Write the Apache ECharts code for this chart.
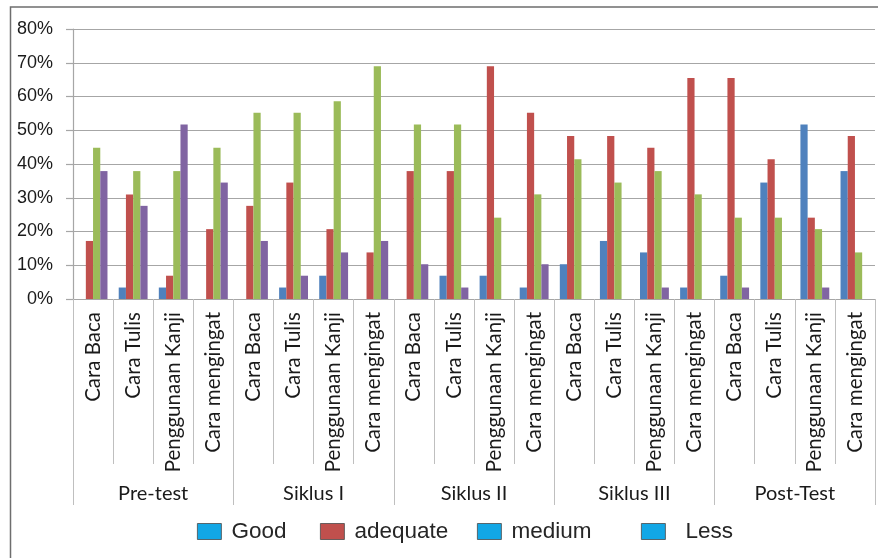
<!DOCTYPE html>
<html>
<head>
<meta charset="utf-8">
<script src="https://cdn.jsdelivr.net/npm/echarts@6/dist/echarts.min.js"></script>
<style>
html,body{margin:0;padding:0;background:#fff;}
#chart{width:878px;height:558px;}
</style>
</head>
<body>
<div id="chart"></div>
<script>
// ---- data ----
const groups = ['Pre-test', 'Siklus I', 'Siklus II', 'Siklus III', 'Post-Test'];
const subCategories = ['Cara Baca', 'Cara Tulis', 'Penggunaan Kanji', 'Cara mengingat'];
const yTicks = [0, 10, 20, 30, 40, 50, 60, 70, 80];
const seriesNames = ['Good', 'adequate', 'medium', 'Less'];
const good     = [0, 3.4, 3.4, 0,    0, 3.4, 6.9, 0,     0, 6.9, 6.9, 3.4,     10.3, 17.2, 13.8, 3.4,  6.9, 34.5, 51.7, 37.9];
const adequate = [17.2, 31.0, 6.9, 20.7, 27.6, 34.5, 20.7, 13.8, 37.9, 37.9, 69.0, 55.2, 48.3, 48.3, 44.8, 65.5, 65.5, 41.4, 24.1, 48.3];
const medium   = [44.8, 37.9, 37.9, 44.8, 55.2, 55.2, 58.6, 69.0, 51.7, 51.7, 24.1, 31.0, 41.4, 34.5, 37.9, 31.0, 24.1, 24.1, 20.7, 13.8];
const less     = [37.9, 27.6, 51.7, 34.5, 17.2, 6.9, 13.8, 17.2, 10.3, 3.4, 0, 10.3,  0, 0, 3.4, 0,   3.4, 0, 3.4, 0];

// ---- build ----
const categories = [];
groups.forEach(function () { subCategories.forEach(function (s) { categories.push(s); }); });
const barColors = ['#4F81BD', '#C0504D', '#9BBB59', '#8064A2'];
const legendColors = ['#12A7E6', '#C0504D', '#12A7E6', '#12A7E6'];
const seriesData = [good, adequate, medium, less];
const legendLeft = [197, 320, 477, 641];
const legendTextPad = [5, 5, 5, 15];

const chart = echarts.init(document.getElementById('chart'));
const catFont = 'Lato, "Open Sans", sans-serif';

chart.setOption({
  animation: false,
  backgroundColor: '#ffffff',
  graphic: [{
    type: 'rect',
    shape: { x: 10.5, y: 7, width: 900, height: 600 },
    style: { fill: 'none', stroke: '#6E6E6E', lineWidth: 1.5 },
    z: 100
  }],
  grid: { left: 73, right: 3, top: 29, bottom: 259, containLabel: false },
  legend: seriesNames.map(function (n, i) {
    return {
      data: [{ name: n, itemStyle: { color: legendColors[i], borderColor: '#4a4a4a', borderWidth: 0.8 } }],
      left: legendLeft[i],
      top: 520,
      padding: 0,
      icon: 'rect',
      itemWidth: 24,
      itemHeight: 16,
      selectedMode: false,
      textStyle: {
        fontFamily: '"Liberation Sans", Arial, sans-serif',
        fontSize: 22.5,
        color: '#262626',
        padding: [0, 0, 0, legendTextPad[i]]
      }
    };
  }),
  xAxis: [{
    type: 'category',
    data: categories,
    position: 'bottom',
    axisLine: { show: true, lineStyle: { color: '#A6A6A6', width: 1.2 } },
    axisTick: { show: true, interval: 0, length: 165, lineStyle: { color: '#BFBFBF', width: 1 } },
    axisLabel: {
      interval: 0, rotate: 90, margin: 13,
      fontFamily: catFont, fontSize: 20.5, color: '#1a1a1a'
    },
    splitLine: { show: false }
  }, {
    type: 'category',
    data: groups,
    position: 'bottom',
    axisLine: { show: false },
    axisTick: { show: true, interval: 0, length: 206, lineStyle: { color: '#BFBFBF', width: 1 } },
    axisLabel: {
      interval: 0, margin: 185,
      fontFamily: catFont, fontSize: 20, color: '#1a1a1a'
    },
    splitLine: { show: false }
  }],
  yAxis: {
    type: 'value',
    min: yTicks[0],
    max: yTicks[yTicks.length - 1],
    interval: 10,
    axisLine: { show: true, lineStyle: { color: '#A6A6A6', width: 1.2 } },
    axisTick: { show: true, length: 7, lineStyle: { color: '#A6A6A6', width: 1.2 } },
    axisLabel: {
      formatter: '{value}%', margin: 20,
      fontFamily: '"Liberation Sans", Arial, sans-serif', fontSize: 18, color: '#1a1a1a'
    },
    splitLine: { show: true, lineStyle: { color: '#A6A6A6', width: 1.2 } }
  },
  series: seriesNames.map(function (n, i) {
    return {
      name: n,
      type: 'bar',
      xAxisIndex: 0,
      data: seriesData[i],
      barGap: '0%',
      barCategoryGap: '28%',
      itemStyle: { color: barColors[i] }
    };
  })
});
</script>
</body>
</html>
